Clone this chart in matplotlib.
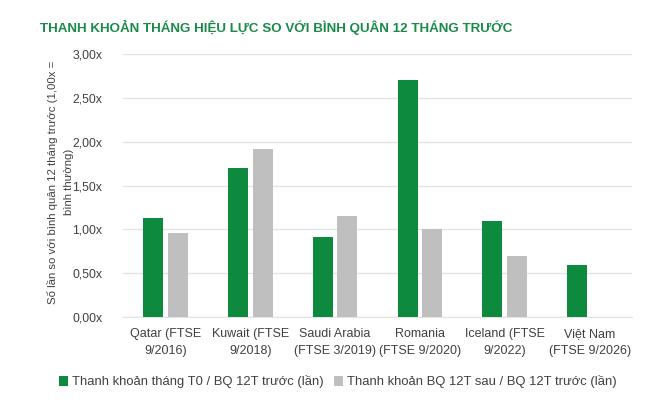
import matplotlib
matplotlib.use("Agg")
import matplotlib.pyplot as plt
import numpy as np

categories = ["Qatar (FTSE\n9/2016)", "Kuwait (FTSE\n9/2018)", "Saudi Arabia\n(FTSE 3/2019)",
              "Romania\n(FTSE 9/2020)", "Iceland (FTSE\n9/2022)", "Việt Nam\n(FTSE 9/2026)"]
t0_ratio = [1.13, 1.70, 0.91, 2.70, 1.09, 0.59]
post_ratio = [0.96, 1.92, 1.15, 1.00, 0.70, np.nan]
yticks = [0, 0.5, 1.0, 1.5, 2.0, 2.5, 3.0]
ytick_labels = ["0,00x", "0,50x", "1,00x", "1,50x", "2,00x", "2,50x", "3,00x"]

plt.rcParams['font.family'] = ['Liberation Sans', 'DejaVu Sans']
txt = "#404040"

fig = plt.figure(figsize=(6.58, 4.13), dpi=100)
ax = fig.add_axes([123/658, 1 - 317/413, (632-123)/658, (317-54)/413])

x = np.arange(len(categories))
w = 0.235
ax.bar(x - 0.145, t0_ratio, w, color="#0E8A3E", label="Thanh khoản tháng T0 / BQ 12T trước (lần)", zorder=3)
ax.bar(x + 0.145, post_ratio, w, color="#BFBFBF", label="Thanh khoản BQ 12T sau / BQ 12T trước (lần)", zorder=3)

ax.set_xlim(-0.5, len(categories) - 0.5)
ax.set_ylim(0, 3.0)
ax.set_yticks(yticks)
ax.set_yticklabels(ytick_labels, fontsize=8.8, color=txt)
ax.set_xticks(x)
ax.set_xticklabels(categories, fontsize=9, color=txt, linespacing=1.55)
ax.tick_params(axis="y", length=0, pad=15)
ax.tick_params(axis="x", length=0, pad=8)
ax.grid(axis="y", color="#E3E3E3", linewidth=1, zorder=0)
for s in ax.spines.values():
    s.set_visible(False)
ax.spines["bottom"].set_visible(True)
ax.spines["bottom"].set_color("#E3E3E3")

fig.text(61/658, 1 - 182/413, "Số lần so với bình quân 12 tháng trước (1,00x =\nbình thường)",
         rotation=90, ha="center", va="center", fontsize=8.2, color=txt,
         multialignment="center", linespacing=1.75)

fig.text(40/658, 1 - 27/413, "THANH KHOẢN THÁNG HIỆU LỰC SO VỚI BÌNH QUÂN 12 THÁNG TRƯỚC",
         fontsize=9.6, fontweight="bold", color="#1A8A4A", va="center", ha="left")

fig.legend(loc="center", bbox_to_anchor=(338/658, 1 - 382/413), ncol=2, frameon=False,
           fontsize=9.4, handlelength=0.7, handleheight=0.7, handletextpad=0.3, columnspacing=0.8,
           labelcolor=txt)

fig.savefig("out.png", dpi=100)
